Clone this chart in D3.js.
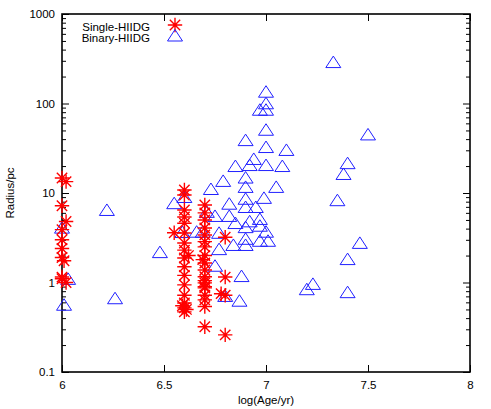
<!DOCTYPE html>
<html>
<head>
<meta charset="utf-8">
<script src="https://cdn.jsdelivr.net/npm/d3@7"></script>
<style>
  body { margin: 0; background: #fff; }
  svg { display: block; font-family: "Liberation Sans", Arial, sans-serif; }
  .tick text { font-size: 11.5px; fill: #000; }
</style>
</head>
<body>
<div id="chart"></div>
<script>
// log(Age/yr) and Radius/pc
var singleAge = [6.0, 6.02, 6.0, 6.02, 6.0, 6.0, 6.0, 6.0, 6.01, 6.0, 6.02, 6.0,
  6.6, 6.6, 6.6, 6.6, 6.55, 6.6, 6.6, 6.6, 6.6, 6.6, 6.6, 6.6, 6.6, 6.6, 6.6, 6.6, 6.6, 6.59, 6.61, 6.62,
  6.7, 6.7, 6.7, 6.7, 6.7, 6.7, 6.7, 6.7, 6.7, 6.7, 6.7, 6.7, 6.7, 6.7, 6.7, 6.7, 6.7, 6.7, 6.7, 6.69,
  6.8, 6.8, 6.8, 6.78, 6.8];
var singleRadius = [14.7, 13.4, 7.2, 4.8, 3.9, 3.0, 2.4, 1.9, 1.75, 1.15, 1.0, 1.1,
  10.8, 9.5, 6.45, 5.4, 3.6, 4.6, 3.57, 2.76, 2.3, 1.88, 1.5, 1.2, 0.94, 0.72, 0.59, 0.52, 0.47, 0.55, 0.5, 2.0,
  7.35, 6.0, 5.0, 4.06, 3.4, 2.86, 2.5, 2.0, 1.65, 1.38, 1.16, 0.99, 0.87, 0.72, 0.64, 0.54, 0.32, 0.9, 1.05, 1.8,
  3.2, 1.15, 0.72, 0.75, 0.26];

var binaryAge = [7.33, 7.0, 7.0, 6.97, 7.0, 7.0, 7.5, 7.0, 7.1, 6.9, 6.94, 6.92, 7.0, 7.08, 6.85,
  7.4, 7.38, 6.9, 6.79, 7.05, 6.9, 6.73, 6.99, 6.9, 7.35, 6.82, 6.9, 6.95, 6.6, 6.55,
  6.71, 6.75, 6.82, 6.92, 6.97, 6.85, 6.9, 6.97, 7.0, 6.59, 6.66, 6.69, 6.77, 6.9, 6.97, 7.01,
  6.9, 6.84, 6.77, 6.48, 6.75, 6.88, 6.8, 6.87, 7.46, 7.4, 7.4, 7.23, 7.2,
  6.22, 6.0, 6.03, 6.01, 6.26];
var binaryRadius = [283, 132, 98, 83, 83, 49.6, 44, 31.8, 29.5, 38, 23.4, 20, 20, 19.5, 19.5,
  21, 15.9, 14.5, 13.3, 11.4, 11.4, 10.8, 8.6, 8.4, 8.1, 7.4, 6.8, 6.8, 8.8, 7.5,
  6.0, 5.4, 5.4, 4.7, 5.0, 4.5, 4.05, 4.2, 3.6, 3.57, 3.6, 3.6, 3.5, 3.0, 2.85, 2.85,
  2.56, 2.56, 2.3, 2.13, 1.5, 1.15, 0.69, 0.61, 2.7, 1.78, 0.76, 0.94, 0.82,
  6.3, 4.0, 1.07, 0.55, 0.65];

var xTicks = [6, 6.5, 7, 7.5, 8];
var yTicks = [0.1, 1, 10, 100, 1000];
var seriesNames = ["Single-HIIDG", "Binary-HIIDG"];

var margin = {top: 14, right: 21, bottom: 37, left: 62},
    width = 491 - margin.left - margin.right,
    height = 409 - margin.top - margin.bottom;

var x = d3.scaleLinear().domain([6, 8]).range([0, width]);
var y = d3.scaleLog().domain([0.1, 1000]).range([height, 0]);

var red = "#ff0000", blue = "#2020ff";

var svg = d3.select("#chart").append("svg")
    .attr("width", 491)
    .attr("height", 409)
  .append("g")
    .attr("transform", "translate(" + margin.left + "," + margin.top + ")");

// minor ticks for log axis
var minorY = [];
yTicks.slice(0, -1).forEach(function(t) {
  for (var k = 2; k < 10; k++) minorY.push(t * k);
});

function fmt(d) { return d >= 1 ? d3.format("d")(d) : String(d); }

svg.append("g")
    .attr("transform", "translate(0," + height + ")")
    .call(d3.axisBottom(x).tickValues(xTicks).tickSize(-7).tickPadding(9).tickFormat(d3.format("")))
    .call(function(g) { g.select(".domain").remove(); });

svg.append("g")
    .call(d3.axisTop(x).tickValues(xTicks).tickSize(-7).tickFormat(""))
    .call(function(g) { g.select(".domain").remove(); });

svg.append("g")
    .call(d3.axisLeft(y).tickValues(yTicks).tickSize(-7).tickPadding(7).tickFormat(fmt))
    .call(function(g) { g.select(".domain").remove(); });

svg.append("g")
    .call(d3.axisLeft(y).tickValues(minorY).tickSize(-4).tickFormat(""))
    .call(function(g) { g.select(".domain").remove(); });

svg.append("g")
    .attr("transform", "translate(" + width + ",0)")
    .call(d3.axisRight(y).tickValues(yTicks).tickSize(-7).tickFormat(""))
    .call(function(g) { g.select(".domain").remove(); });

svg.append("g")
    .attr("transform", "translate(" + width + ",0)")
    .call(d3.axisRight(y).tickValues(minorY).tickSize(-4).tickFormat(""))
    .call(function(g) { g.select(".domain").remove(); });

svg.selectAll(".tick line").attr("stroke", "#000").attr("stroke-width", 1);

svg.append("rect")
    .attr("width", width)
    .attr("height", height)
    .style("fill", "none")
    .style("stroke", "#000")
    .style("stroke-width", 1.6);

// markers
var s = 7.2;
var starPath = "M" + (-s) + ",0H" + s + "M0," + (-s) + "V" + s +
    "M" + (-s * 0.72) + "," + (-s * 0.72) + "L" + (s * 0.72) + "," + (s * 0.72) +
    "M" + (-s * 0.72) + "," + (s * 0.72) + "L" + (s * 0.72) + "," + (-s * 0.72);
var triPath = "M0,-7L7.5,4.5H-7.5Z";

var binary = binaryAge.map(function(d, i) { return {x: d, y: binaryRadius[i]}; });
var single = singleAge.map(function(d, i) { return {x: d, y: singleRadius[i]}; });

svg.append("g").selectAll("path")
    .data(binary)
  .enter().append("path")
    .attr("transform", function(d) { return "translate(" + x(d.x) + "," + y(d.y) + ")"; })
    .attr("d", triPath)
    .style("fill", "none")
    .style("stroke", blue)
    .style("stroke-width", 1);

svg.append("g").selectAll("path")
    .data(single)
  .enter().append("path")
    .attr("transform", function(d) { return "translate(" + x(d.x) + "," + y(d.y) + ")"; })
    .attr("d", starPath)
    .style("fill", "none")
    .style("stroke", red)
    .style("stroke-width", 1.4);

// legend
var legend = svg.selectAll(".legend")
    .data(seriesNames)
  .enter().append("g")
    .attr("class", "legend")
    .attr("transform", function(d, i) { return "translate(0," + (11 + i * 11.5) + ")"; });

legend.append("text")
    .attr("x", 88)
    .attr("y", 1.5)
    .attr("dy", "0.35em")
    .style("text-anchor", "end")
    .style("font-size", "11.5px")
    .text(function(d) { return d; });

legend.append("path")
    .attr("transform", "translate(113,0)")
    .attr("d", function(d, i) { return i == 0 ? starPath : triPath; })
    .style("fill", "none")
    .style("stroke", function(d, i) { return i == 0 ? red : blue; })
    .style("stroke-width", function(d, i) { return i == 0 ? 1.4 : 1; });

// axis titles
svg.append("text")
    .attr("x", width / 2)
    .attr("y", height + 32)
    .style("text-anchor", "middle")
    .style("font-size", "11.5px")
    .text("log(Age/yr)");

svg.append("text")
    .attr("transform", "translate(" + (-48) + "," + (height / 2) + ") rotate(-90)")
    .style("text-anchor", "middle")
    .style("font-size", "11.5px")
    .text("Radius/pc");
</script>
</body>
</html>
